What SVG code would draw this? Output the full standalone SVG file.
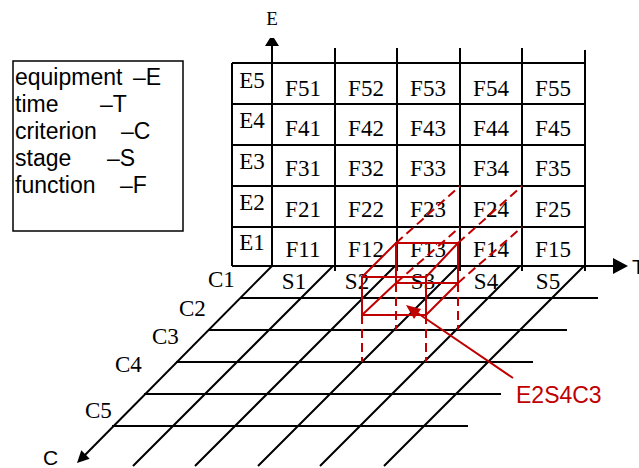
<svg xmlns="http://www.w3.org/2000/svg" width="639" height="468" viewBox="0 0 639 468">
<style>
.ln{stroke:#000;stroke-width:2;fill:none}
.rd{stroke:#c00000;stroke-width:2;fill:none}
.rdd{stroke:#c00000;stroke-width:2;fill:none;stroke-dasharray:9,5}
.serif{font-family:"Liberation Serif","Times New Roman",serif;font-size:23px;fill:#000}
.sans{font-family:"Liberation Sans",Arial,sans-serif;font-size:23px;fill:#000}
.mid{text-anchor:middle}
</style>
<rect width="639" height="468" fill="#fff"/>

<g id="legend">
<rect x="13" y="61" width="170" height="170" fill="none" stroke="#000" stroke-width="1.5"/>
<text class="sans" x="15" y="85">equipment<tspan x="133">–E</tspan></text>
<text class="sans" x="15" y="112">time<tspan x="100">–T</tspan></text>
<text class="sans" x="15" y="139">criterion<tspan x="121">–C</tspan></text>
<text class="sans" x="15" y="166">stage<tspan x="107">–S</tspan></text>
<text class="sans" x="15" y="193">function<tspan x="120">–F</tspan></text>
</g>

<g id="grid">
<path class="ln" d="M232 63H585M232 104H585M232 145H585M232 186H585M232 227H585M232 63V266"/>
<path class="ln" d="M335 48V271M397 48V271M460 48V271M522 48V271M585 50V271"/>
</g>

<g id="floor">
<path class="ln" d="M240 298H598M208 330H567M176 362H533M144 394H501M112 426H468"/>
<path class="ln" d="M333 266L133 466M395 266L195 466M458 266L258 466M520 266L320 466M584 266L384 466"/>
</g>

<g id="axes">
<path class="ln" d="M272 266V45"/>
<polygon points="265,46 279,46 274,38 270,38" fill="#000"/>
<path class="ln" d="M232 266H615"/>
<polygon points="613,258 628,266 613,274" fill="#000"/>
<path class="ln" d="M272 266L84 456"/>
<polygon points="77,463 89.7,458.7 81.3,450.3" fill="#000"/>
<text class="serif mid" x="272" y="25" style="font-size:19px">E</text>
<text class="sans" x="632" y="274" style="font-size:21px">T</text>
<text class="sans" x="43" y="465" style="font-size:21px">C</text>
</g>

<g id="e-labels" class="serif">
<text class="serif mid" x="252" y="88">E5</text>
<text class="serif mid" x="252" y="128">E4</text>
<text class="serif mid" x="252" y="169">E3</text>
<text class="serif mid" x="252" y="210">E2</text>
<text class="serif mid" x="252" y="250">E1</text>
</g>

<g id="f-labels">
<text class="serif mid" x="303" y="96">F51</text>
<text class="serif mid" x="366" y="96">F52</text>
<text class="serif mid" x="428" y="96">F53</text>
<text class="serif mid" x="491" y="96">F54</text>
<text class="serif mid" x="553" y="96">F55</text>
<text class="serif mid" x="303" y="136">F41</text>
<text class="serif mid" x="366" y="136">F42</text>
<text class="serif mid" x="428" y="136">F43</text>
<text class="serif mid" x="491" y="136">F44</text>
<text class="serif mid" x="553" y="136">F45</text>
<text class="serif mid" x="303" y="176">F31</text>
<text class="serif mid" x="366" y="176">F32</text>
<text class="serif mid" x="428" y="176">F33</text>
<text class="serif mid" x="491" y="176">F34</text>
<text class="serif mid" x="553" y="176">F35</text>
<text class="serif mid" x="303" y="217">F21</text>
<text class="serif mid" x="366" y="217">F22</text>
<text class="serif mid" x="428" y="217">F23</text>
<text class="serif mid" x="491" y="217">F24</text>
<text class="serif mid" x="553" y="217">F25</text>
<text class="serif mid" x="303" y="257">F11</text>
<text class="serif mid" x="366" y="257">F12</text>
<text class="serif mid" x="428" y="257">F13</text>
<text class="serif mid" x="491" y="257">F14</text>
<text class="serif mid" x="553" y="257">F15</text>
</g>

<g id="s-labels">
<text class="serif mid" x="294" y="289">S1</text>
<text class="serif mid" x="357" y="289">S2</text>
<text class="serif mid" x="423" y="289">S3</text>
<text class="serif mid" x="486" y="289">S4</text>
<text class="serif mid" x="548" y="289">S5</text>
</g>

<g id="c-labels">
<text class="serif" x="208" y="287">C1</text>
<text class="serif" x="179" y="316">C2</text>
<text class="serif" x="152" y="344">C3</text>
<text class="serif" x="115" y="372">C4</text>
<text class="serif" x="85" y="418">C5</text>
</g>

<g id="cube">
<rect class="rd" x="396" y="243" width="62" height="40"/>
<rect class="rd" x="362" y="277" width="64" height="38"/>
<path class="rd" d="M362 277L396 243M426 277L458 243M362 315L396 283M426 315L458 283"/>
<path class="rdd" d="M396 243L460 186M458 243L522 186M396 283L460 227M458 283L522 227"/>
<path class="rdd" d="M362 315V362M426 315V362M396 283V330M458 283V330"/>
</g>

<g id="callout">
<path class="rd" d="M513 378L416 312"/>
<polygon points="406,305 421,309 414,319" fill="#c00000"/>
<text class="sans" x="516" y="403" style="fill:#c00000">E2S4C3</text>
</g>
</svg>
